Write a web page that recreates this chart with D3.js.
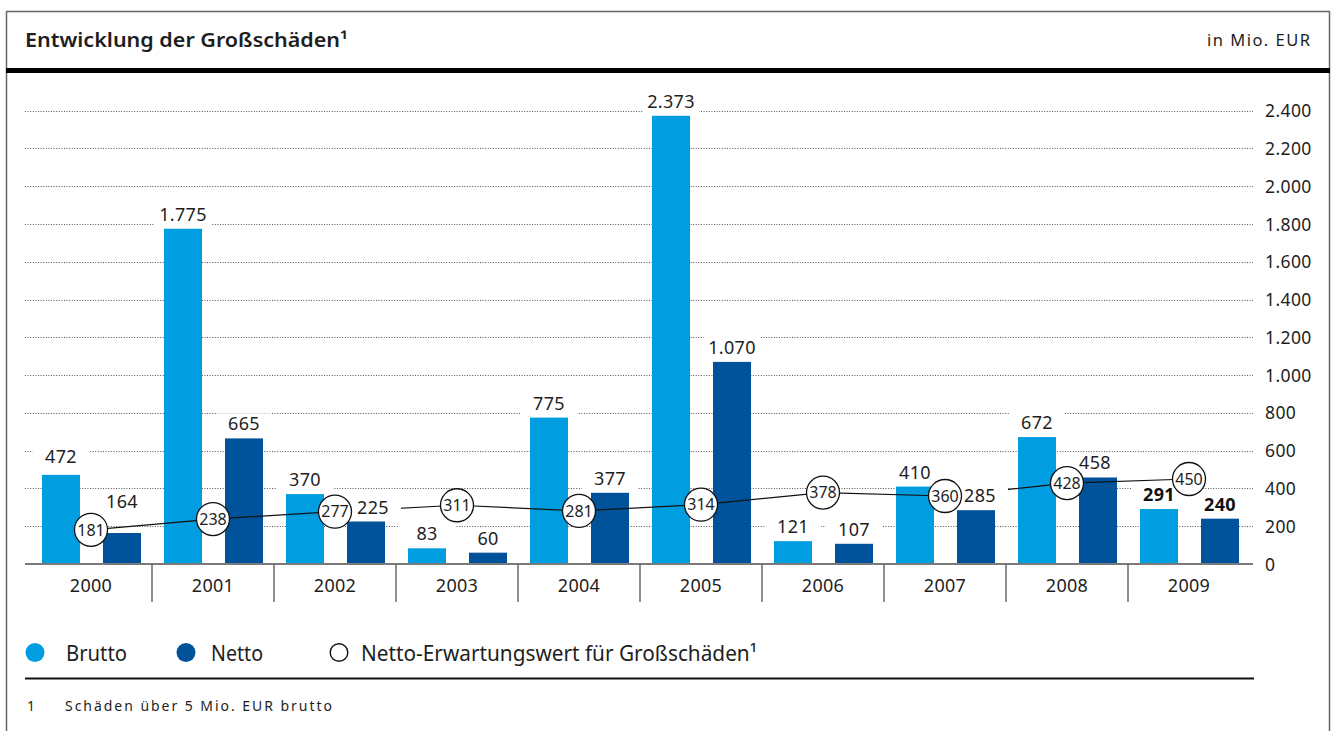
<!DOCTYPE html>
<html>
<head>
<meta charset="utf-8">
<script src="https://cdn.jsdelivr.net/npm/d3@7"></script>
<style>
  html, body { margin: 0; padding: 0; background: #fff; }
  svg { display: block; font-family: "Noto Sans", "Open Sans", sans-serif; }
</style>
</head>
<body>
<svg id="chart" width="1335" height="731"></svg>
<script>
// ---- data ----
const years = ["2000","2001","2002","2003","2004","2005","2006","2007","2008","2009"];
const brutto = [472, 1775, 370, 83, 775, 2373, 121, 410, 672, 291];
const netto = [164, 665, 225, 60, 377, 1070, 107, 285, 458, 240];
const erwartung = [181, 238, 277, 311, 281, 314, 378, 360, 428, 450];
const yTicks = [0, 200, 400, 600, 800, 1000, 1200, 1400, 1600, 1800, 2000, 2200, 2400];
const seriesNames = ["Brutto", "Netto"];
const legendLabels = ["Brutto", "Netto", "Netto-Erwartungswert für Großschäden¹"];
const titleText = "Entwicklung der Großschäden¹";
const unitText = "in Mio. EUR";
const footnoteText = "Schäden über 5 Mio. EUR brutto";
const boldYear = "2009";

// ---- layout ----
const W = 1335, H = 731;
const colors = { Brutto: "#009ee0", Netto: "#00529a" };
const textColor = "#1e1e1e";
const labelNudge = { "Brutto-2000": [0, -3.5], "Netto-2000": [0, -17], "Netto-2002": [7, 0], "Netto-2007": [4, 0], "Netto-2008": [-3, 0] };

const fmt = d3.formatLocale({ decimal: ",", thousands: ".", grouping: [3], currency: ["", " €"] }).format(",d");

const svg = d3.select("#chart");

// frame
const frame = svg.append("g");
frame.append("line").attr("x1", 6.5).attr("x2", 1329.5).attr("y1", 11.5).attr("y2", 11.5).attr("stroke", "#666").attr("stroke-width", 1.5);
frame.append("line").attr("x1", 6.5).attr("x2", 6.5).attr("y1", 11).attr("y2", H).attr("stroke", "#666").attr("stroke-width", 1.5);
frame.append("line").attr("x1", 1329.5).attr("x2", 1329.5).attr("y1", 11).attr("y2", H).attr("stroke", "#666").attr("stroke-width", 1.5);
frame.append("rect").attr("x", 6).attr("y", 68).attr("width", 1324).attr("height", 5).attr("fill", "#000");

svg.append("text").attr("x", 25).attr("y", 47).attr("font-size", 20).attr("font-weight", 600)
  .attr("fill", textColor).attr("textLength", 323).attr("lengthAdjust", "spacingAndGlyphs").text(titleText);
svg.append("text").attr("x", 1207).attr("y", 46).attr("font-size", 16.5)
  .attr("fill", textColor).attr("textLength", 103).attr("lengthAdjust", "spacing").text(unitText);

// scales
const x0 = d3.scaleBand().domain(years).range([30, 1250]).padding(0);
const x1 = d3.scaleBand().domain(seriesNames).range([12, 111]).paddingInner(23 / 61).paddingOuter(0);
const y = d3.scaleLinear().domain([0, 2400]).range([564, 110.7]);

// gridlines
svg.append("g").selectAll("line").data(yTicks.filter(d => d > 0)).join("line")
  .attr("x1", 25).attr("x2", 1253)
  .attr("y1", d => Math.round(y(d)) + 0.5).attr("y2", d => Math.round(y(d)) + 0.5)
  .attr("stroke", "#555").attr("stroke-width", 1).attr("stroke-dasharray", "1,1.6");

// y tick labels (right side)
svg.append("g").selectAll("text").data(yTicks).join("text")
  .attr("x", 1265).attr("y", d => y(d) + 6.5)
  .attr("font-size", 17.5).attr("letter-spacing", 0.4).attr("fill", textColor)
  .text(d => fmt(d));

// bars
const barData = [];
years.forEach((yr, i) => {
  barData.push({ year: yr, series: "Brutto", value: brutto[i] });
  barData.push({ year: yr, series: "Netto", value: netto[i] });
});
svg.append("g").selectAll("rect").data(barData).join("rect")
  .attr("x", d => x0(d.year) + x1(d.series))
  .attr("width", x1.bandwidth())
  .attr("y", d => y(d.value))
  .attr("height", d => y(0) - y(d.value))
  .attr("fill", d => colors[d.series]);

// axis baseline + separators
svg.append("line").attr("x1", 25).attr("x2", 1253).attr("y1", y(0)).attr("y2", y(0))
  .attr("stroke", "#7a7a7a").attr("stroke-width", 2);
svg.append("g").selectAll("line").data(years.slice(1)).join("line")
  .attr("x1", d => x0(d)).attr("x2", d => x0(d))
  .attr("y1", y(0)).attr("y2", 602)
  .attr("stroke", "#6a6a6a").attr("stroke-width", 1.5);
svg.append("g").selectAll("text").data(years).join("text")
  .attr("x", d => x0(d) + x0.bandwidth() / 2).attr("y", 592)
  .attr("text-anchor", "middle").attr("font-size", 18).attr("letter-spacing", 0.3).attr("fill", textColor)
  .text(d => d);

// expectation line
const cx = (d, i) => x0(years[i]) + x0.bandwidth() / 2;
const lineGen = d3.line().x((d, i) => cx(d, i)).y(d => y(d));
svg.append("path").datum(erwartung).attr("d", lineGen)
  .attr("fill", "none").attr("stroke", "#111").attr("stroke-width", 1.2);

// value labels with white knock-out backgrounds
const labelG = svg.append("g");
barData.forEach(d => {
  const nud = labelNudge[d.series + "-" + d.year] || [0, 0];
  d.lx = x0(d.year) + x1(d.series) + x1.bandwidth() / 2 + nud[0];
  d.ly = y(d.value) - 8 + nud[1];
});
labelG.selectAll("rect").data(barData).join("rect")
  .attr("x", d => d.lx - 28).attr("y", d => d.ly - 17).attr("width", 56).attr("height", 22)
  .attr("fill", "#fff");

// circles
const circG = svg.append("g").selectAll("g").data(erwartung).join("g")
  .attr("transform", (d, i) => `translate(${cx(d, i)},${y(d)})`);
circG.append("circle").attr("r", 16.5).attr("fill", "#fff").attr("stroke", "#111").attr("stroke-width", 1.3);
circG.append("text").attr("text-anchor", "middle").attr("dy", "0.36em")
  .attr("font-size", 16).attr("fill", textColor).text(d => fmt(d));

labelG.selectAll("text").data(barData).join("text")
  .attr("x", d => d.lx).attr("y", d => d.ly)
  .attr("text-anchor", "middle").attr("font-size", 18).attr("letter-spacing", 0.3)
  .attr("font-weight", d => d.year === boldYear ? 700 : 400)
  .attr("fill", d => d.year === boldYear ? "#111" : textColor)
  .text(d => fmt(d.value));

// legend
const leg = svg.append("g");
const legendItems = [
  { cx: 35, tx: 66, w: 61, fill: colors.Brutto, stroke: "none" },
  { cx: 186, tx: 211, w: 52, fill: colors.Netto, stroke: "none" },
  { cx: 339, tx: 361, w: 396, fill: "#fff", stroke: "#111" }
];
legendItems.forEach((it, i) => {
  leg.append("circle").attr("cx", it.cx).attr("cy", 652.5).attr("r", it.stroke === "none" ? 9.5 : 8.8)
    .attr("fill", it.fill).attr("stroke", it.stroke).attr("stroke-width", 1.4);
  leg.append("text").attr("x", it.tx).attr("y", 660.5).attr("font-size", 21).attr("fill", textColor)
    .attr("textLength", it.w).attr("lengthAdjust", "spacingAndGlyphs").text(legendLabels[i]);
});

// footnote
svg.append("line").attr("x1", 25).attr("x2", 1254).attr("y1", 678.5).attr("y2", 678.5)
  .attr("stroke", "#111").attr("stroke-width", 2);
svg.append("text").attr("x", 27).attr("y", 711).attr("font-size", 14).attr("fill", textColor).text("1");
svg.append("text").attr("x", 65).attr("y", 711).attr("font-size", 14).attr("fill", textColor)
  .attr("textLength", 267).attr("lengthAdjust", "spacing").text(footnoteText);
</script>
</body>
</html>
